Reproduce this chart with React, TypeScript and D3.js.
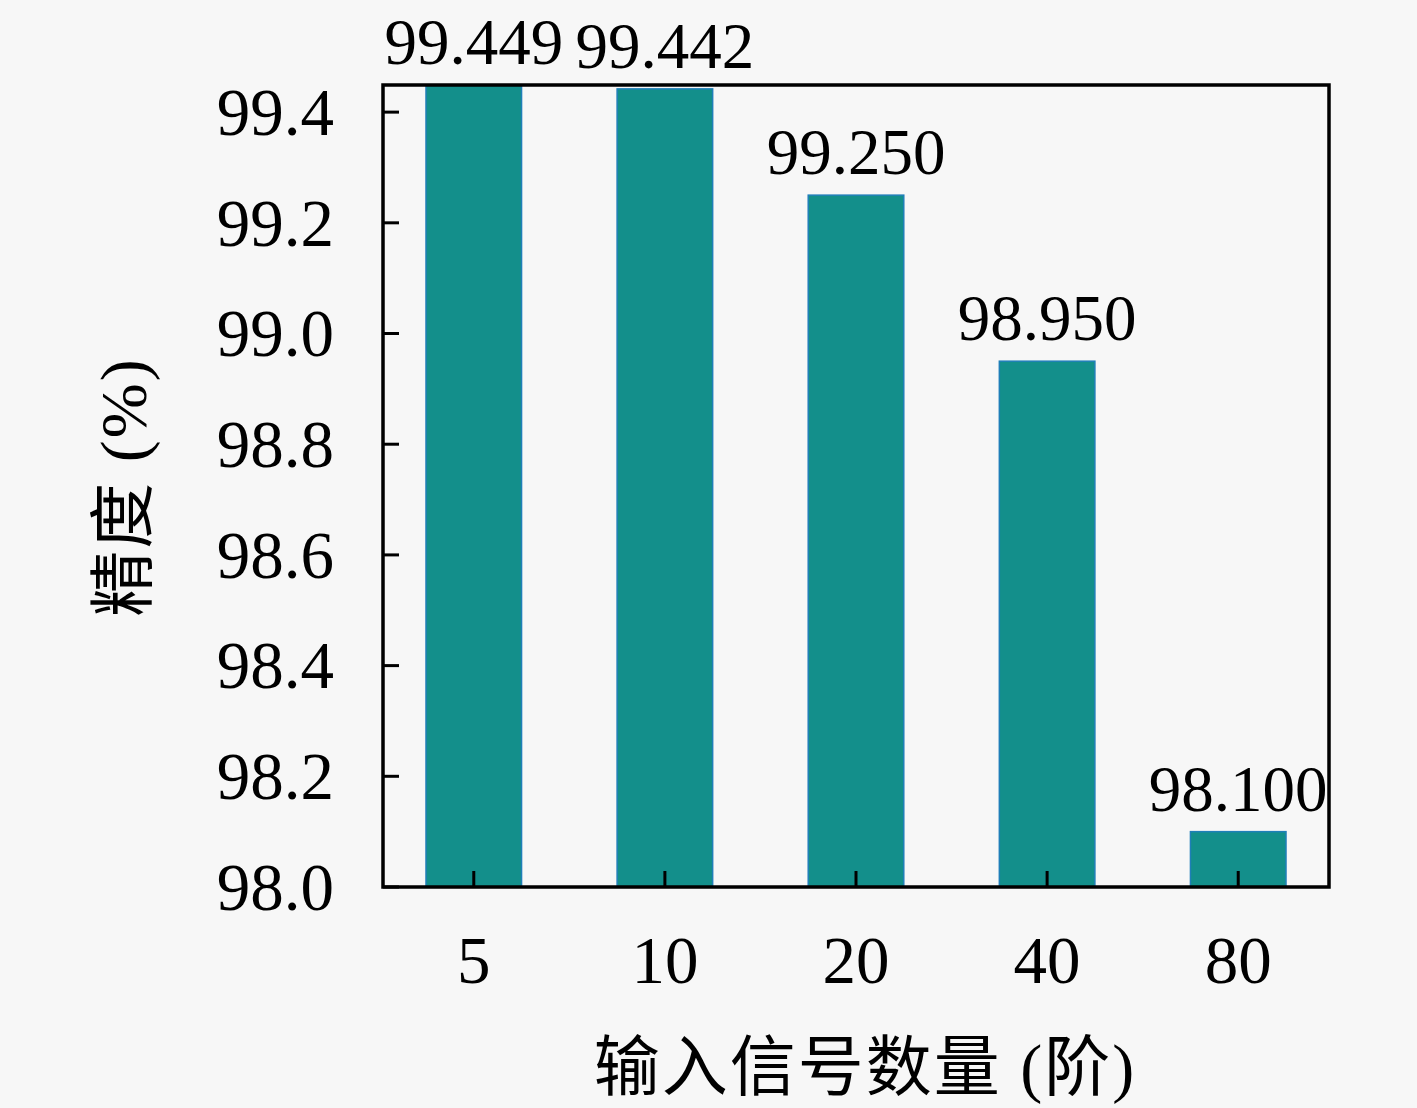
import React from "react";
import * as d3 from "d3";

const categories = ["5", "10", "20", "40", "80"];
const values = [99.449, 99.442, 99.25, 98.95, 98.1];
const valueLabels = ["99.449", "99.442", "99.250", "98.950", "98.100"];
const yTicks = [98.0, 98.2, 98.4, 98.6, 98.8, 99.0, 99.2, 99.4];
const xTitle = "输入信号数量 (阶)";
const yTitle = "精度 (%)";

const W = 1417;
const H = 1108;
const M = { left: 383, right: 1329, top: 85, bottom: 887 };
const NUM_FONT = "'Liberation Serif', 'DejaVu Serif', serif";
const CJK_FONT = "'Liberation Serif', 'Noto Sans CJK SC', serif";
const NUM_SIZE = 67;

export default function App() {
  const x = d3
    .scaleLinear()
    .domain([-0.475, categories.length - 1 + 0.475])
    .range([M.left, M.right]);
  const y = d3.scaleLinear().domain([98.0, 99.449]).range([M.bottom, M.top]);
  const barW = x(0.5) - x(0);
  const fmt = d3.format(".1f");

  return (
    <svg
      width={W}
      height={H}
      style={{ position: "absolute", left: 0, top: 0, background: "#f7f7f7" }}
    >
      <rect x={0} y={0} width={W} height={H} fill="#f7f7f7" />
      <defs>
        <clipPath id="plotClip">
          <rect x={M.left} y={M.top} width={M.right - M.left} height={M.bottom - M.top} />
        </clipPath>
      </defs>
      <g clipPath="url(#plotClip)">
        {values.map((v, i) => (
          <rect
            key={i}
            x={x(i) - barW / 2}
            y={y(v)}
            width={barW}
            height={y(98.0) - y(v)}
            fill="#138f8b"
            stroke="#1f7fb8"
            strokeWidth={1.5}
          />
        ))}
      </g>
      {yTicks.map((t) => (
        <g key={t}>
          <line x1={M.left} x2={M.left + 16} y1={y(t)} y2={y(t)} stroke="#000" strokeWidth={3} />
          <text
            x={334}
            y={y(t)}
            dy="0.34em"
            textAnchor="end"
            fontFamily={NUM_FONT}
            fontSize={NUM_SIZE}
            fill="#000"
          >
            {fmt(t)}
          </text>
        </g>
      ))}
      {categories.map((c, i) => (
        <g key={c}>
          <line x1={x(i)} x2={x(i)} y1={M.bottom} y2={M.bottom - 16} stroke="#000" strokeWidth={3} />
          <text
            x={x(i)}
            y={983}
            textAnchor="middle"
            fontFamily={NUM_FONT}
            fontSize={NUM_SIZE}
            fill="#000"
          >
            {c}
          </text>
        </g>
      ))}
      {values.map((v, i) => (
        <text
          key={i}
          x={x(i)}
          y={y(v) - 21}
          textAnchor="middle"
          fontFamily={NUM_FONT}
          fontSize={65}
          fill="#000"
        >
          {valueLabels[i]}
        </text>
      ))}
      <rect
        x={M.left}
        y={M.top}
        width={M.right - M.left}
        height={M.bottom - M.top}
        fill="none"
        stroke="#000"
        strokeWidth={3.5}
      />
      <text
        x={865}
        y={1090}
        textAnchor="middle"
        fontFamily={CJK_FONT}
        fontSize={66}
        letterSpacing={2}
        fill="#000"
      >
        {xTitle}
      </text>
      <text
        transform={`translate(146, ${487}) rotate(-90)`}
        textAnchor="middle"
        fontFamily={CJK_FONT}
        fontSize={66}
        letterSpacing={2}
        fill="#000"
      >
        {yTitle}
      </text>
    </svg>
  );
}
